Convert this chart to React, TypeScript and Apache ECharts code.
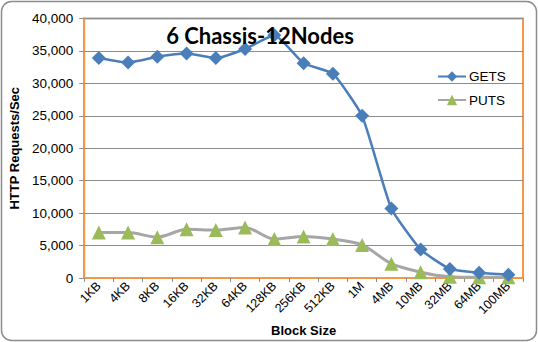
import React, { useEffect, useRef } from "react";
import * as echarts from "echarts";

const categories = ["1KB", "4KB", "8KB", "16KB", "32KB", "64KB", "128KB", "256KB", "512KB", "1M", "4MB", "10MB", "32MB", "64MB", "100MB"];
const getsValues = [33900, 33200, 34100, 34600, 33900, 35300, 37400, 33100, 31500, 25000, 10700, 4400, 1400, 800, 500];
const putsValues = [7000, 7000, 6300, 7500, 7400, 7800, 6000, 6400, 6000, 5100, 2200, 900, 200, 100, 100];
const yTicks = { min: 0, max: 40000, interval: 5000 };
const titleText = "6 Chassis-12Nodes";

const FONT = "Liberation Sans, Arial, sans-serif";

export default function App() {
  const ref = useRef<HTMLDivElement>(null);
  useEffect(() => {
    if (!ref.current) return;
    const chart = echarts.init(ref.current, undefined, { renderer: "svg" });
    const orange = "#F79646";
    chart.setOption({
      animation: false,
      backgroundColor: "#ffffff",
      graphic: [
        {
          type: "rect",
          shape: { x: 1.5, y: 1.5, width: 535, height: 339, r: 10 },
          style: { fill: "none", stroke: "#8c8c8c", lineWidth: 1.5 },
          z: 0,
        },
        {
          type: "text",
          style: {
            text: titleText,
            x: 260,
            y: 35,
            textAlign: "center",
            textVerticalAlign: "middle",
            font: "bold 22px Lato, sans-serif",
            fill: "#000000",
          },
          z: 100,
        },
      ],
      legend: {
        orient: "vertical",
        left: 437,
        top: 69.5,
        padding: 0,
        itemGap: 9.5,
        itemWidth: 28,
        itemHeight: 13,
        textStyle: { fontFamily: FONT, fontSize: 13.5, color: "#000", padding: [0, 0, 0, -2] },
        data: ["GETS", "PUTS"],
      },
      grid: {
        left: 74,
        right: 15,
        top: 18.5,
        bottom: 63,
        show: true,
        borderColor: orange,
        borderWidth: 2,
        backgroundColor: "transparent",
      },
      xAxis: {
        type: "category",
        data: categories,
        boundaryGap: true,
        name: "Block Size",
        nameLocation: "middle",
        nameGap: 46,
        nameTextStyle: { fontFamily: FONT, fontSize: 13, fontWeight: "bold", color: "#000" },
        axisLine: { lineStyle: { color: orange, width: 2 } },
        axisTick: { show: true, alignWithLabel: false, length: 4, lineStyle: { color: "#8c8c8c" } },
        axisLabel: {
          rotate: 45,
          interval: 0,
          margin: 6,
          fontFamily: FONT,
          fontSize: 12.5,
          color: "#000",
        },
        splitLine: { show: false },
      },
      yAxis: {
        type: "value",
        min: yTicks.min,
        max: yTicks.max,
        interval: yTicks.interval,
        name: "HTTP Requests/Sec",
        nameLocation: "middle",
        nameGap: 57,
        nameTextStyle: { fontFamily: FONT, fontSize: 13, fontWeight: "bold", color: "#000" },
        axisLine: { show: true, lineStyle: { color: orange, width: 2 } },
        axisTick: { show: true, length: 5, lineStyle: { color: "#8c8c8c" } },
        axisLabel: {
          margin: 11,
          fontFamily: FONT,
          fontSize: 13.5,
          color: "#000",
          formatter: (v: number) => v.toLocaleString("en-US"),
        },
        splitLine: { show: true, lineStyle: { color: "#8c8c8c", width: 1 } },
      },
      series: [
        {
          name: "GETS",
          type: "line",
          data: getsValues,
          smooth: 0.15,
          symbol: "diamond",
          symbolSize: 14,
          lineStyle: { color: "#4A7EBB", width: 2.5 },
          itemStyle: { color: "#4A7EBB" },
          z: 3,
        },
        {
          name: "PUTS",
          type: "line",
          data: putsValues,
          smooth: 0.3,
          symbol: "triangle",
          symbolSize: 14,
          lineStyle: { color: "#A6A6A6", width: 3 },
          itemStyle: { color: "#9BBB59" },
          z: 2,
        },
      ],
    });
    return () => chart.dispose();
  }, []);
  return <div ref={ref} style={{ width: 538, height: 342, position: "absolute", left: 0, top: 0 }} />;
}
